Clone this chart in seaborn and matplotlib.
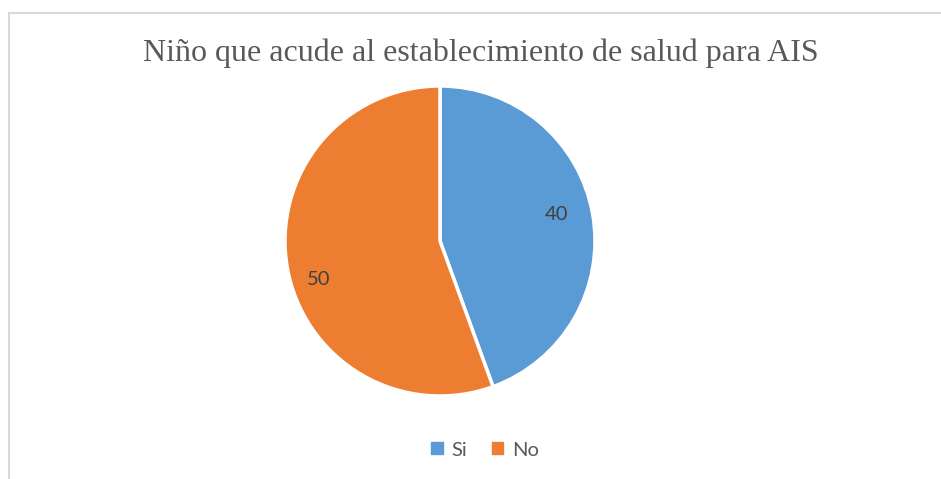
import matplotlib
matplotlib.use("Agg")
import matplotlib.pyplot as plt
import seaborn as sns
import numpy as np
from matplotlib.lines import Line2D
from matplotlib.patches import Patch

categories = ["Si", "No"]
values = [40, 50]
colors = ["#5B9BD5", "#ED7D31"]
title = "Niño que acude al establecimiento de salud para AIS"

sns.set_theme(style="white")
plt.rcParams['font.family'] = ['Lato', 'DejaVu Sans']

fig = plt.figure(figsize=(9.41, 4.79), dpi=100)
W, H = 941, 479

# chart border (top and left visible)
fig.add_artist(Line2D([8.5 / W, 8.5 / W], [0, 1 - 12.5 / H], transform=fig.transFigure,
                      color="#D9D9D9", lw=1.5))
fig.add_artist(Line2D([8.5 / W, 1], [1 - 12.5 / H, 1 - 12.5 / H], transform=fig.transFigure,
                      color="#D9D9D9", lw=1.5))

cx, cy, r = 440, 241, 155
ax = fig.add_axes([(cx - r) / W, (H - cy - r) / H, 2 * r / W, 2 * r / H])
wedges, texts, autotexts = ax.pie(
    values, colors=colors, startangle=90, counterclock=False,
    autopct=lambda p: f"{p * sum(values) / 100:.0f}", pctdistance=0.78,
    wedgeprops=dict(edgecolor="white", linewidth=2.5),
    textprops=dict(fontsize=14.5, color="#404040"))
# nudge labels slightly counter-clockwise, like the Excel layout
for w, t, d, off in zip(wedges, autotexts, [0.77, 0.82], [3, 7.5]):
    ang = np.deg2rad((w.theta1 + w.theta2) / 2 + off)
    t.set_position((d * np.cos(ang), d * np.sin(ang)))
ax.set_xlim(-1, 1)
ax.set_ylim(-1, 1)
ax.set_aspect("equal")
ax.axis("off")

fig.text(481 / W, 1 - 61 / H, title, ha="center", va="baseline",
         fontsize=23, color="#595959", family=["Liberation Serif", "DejaVu Serif"])

handles = [Patch(facecolor=c, edgecolor=c) for c in colors]
fig.legend(handles, categories, loc="center", bbox_to_anchor=(485 / W, 1 - 450 / H),
           ncol=2, frameon=False, fontsize=14.5, handlelength=0.55, handleheight=0.55,
           handletextpad=0.45, columnspacing=1.2, labelcolor="#595959")

fig.savefig("out.png", dpi=100, facecolor="white")
